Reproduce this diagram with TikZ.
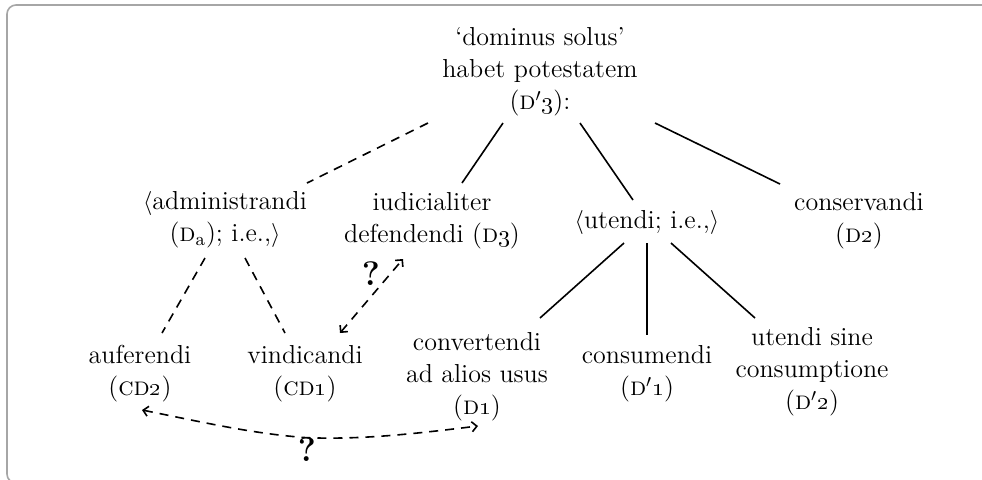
\documentclass[tikz,border=0pt]{standalone}
\usetikzlibrary{arrows.meta}
\begin{document}
\begin{tikzpicture}[x=0.5pt,y=-0.5pt,
  lbl/.style={align=center,inner sep=0pt,font=\fontsize{13}{16}\selectfont},
  qmark/.style={inner sep=0pt,font=\fontsize{17}{17}\selectfont\bfseries},
  link/.style={line width=0.8pt},
  dlink/.style={line width=0.8pt,dash pattern=on 4.5pt off 3.5pt},
  twotips/.style={arrows={Straight Barb[length=2.5pt,width=5pt]-Straight Barb[length=2.5pt,width=5pt]}}
]
\useasboundingbox (0,0) rectangle (982,479);
\draw[black!35,line width=0.8pt,rounded corners=4.5pt] (1000,5) -- (7,5) -- (7,483) -- (1000,483);

\node[lbl] (top) at (540,72) {`dominus solus'\\ habet potestatem\\ (\textsc{d}$'$\oldstylenums{3}):};
\node[lbl] (adm) at (225,220) {$\langle$administrandi\\ (\textsc{d}\textsubscript{a}); i.e.,$\rangle$};
\node[lbl] (iud) at (432,221) {iudicialiter\\ defendendi (\textsc{d}\oldstylenums{3})};
\node[lbl] (ute) at (647,222) {$\langle$utendi; i.e.,$\rangle$};
\node[lbl] (cons) at (859,221) {conservandi\\ (\textsc{d}\oldstylenums{2})};
\node[lbl] (auf) at (140,374) {auferendi\\ (\textsc{cd}\oldstylenums{2})};
\node[lbl] (vin) at (305,374) {vindicandi\\ (\textsc{cd}\oldstylenums{1})};
\node[lbl] (conv) at (477,377) {convertendi\\ ad alios usus\\ (\textsc{d}\oldstylenums{1})};
\node[lbl] (consum) at (647,374) {consumendi\\ (\textsc{d}$'$\oldstylenums{1})};
\node[lbl] (usc) at (812,372) {utendi sine\\ consumptione\\ (\textsc{d}$'$\oldstylenums{2})};
\node[qmark] (q1) at (371,274) {?};
\node[qmark] (q2) at (307,450) {?};

\draw[dlink] ([shift={(-112,51)}]top.center) -- ([shift={(82,-37)}]adm.center);
\draw[link] ([shift={(-37,51)}]top.center) -- ([shift={(30,-38)}]iud.center);
\draw[link] ([shift={(40,51)}]top.center) -- ([shift={(-14,-22)}]ute.center);
\draw[link] ([shift={(115,51)}]top.center) -- ([shift={(-79,-37)}]cons.center);

\draw[dlink] ([shift={(-20,38)}]adm.center) -- ([shift={(22,-41)}]auf.center);
\draw[dlink] ([shift={(20,38)}]adm.center) -- ([shift={(-20,-41)}]vin.center);
\draw[dlink,twotips] ([shift={(35,-41)}]vin.center) -- ([shift={(-29,38)}]iud.center);

\draw[link] ([shift={(-23,21)}]ute.center) -- ([shift={(63,-59)}]conv.center);
\draw[link] ([shift={(0,21)}]ute.center) -- ([shift={(0,-39)}]consum.center);
\draw[link] ([shift={(24,21)}]ute.center) -- ([shift={(-57,-54)}]usc.center);

\draw[dlink,twotips] ([shift={(2,36)}]auf.center) .. controls +(60,12) and +(-55,-4) .. (q2.north) .. controls +(55,2) and +(-65,8) .. ([shift={(1,49)}]conv.center);
\end{tikzpicture}
\end{document}
